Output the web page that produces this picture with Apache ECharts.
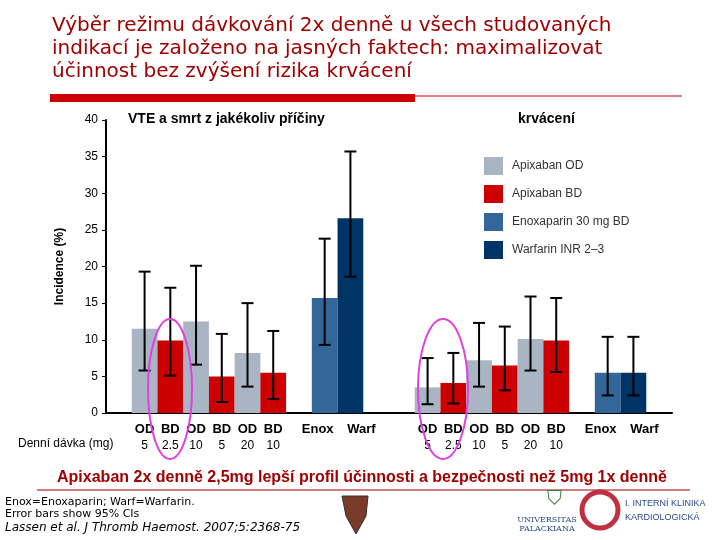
<!DOCTYPE html>
<html><head><meta charset="utf-8">
<script src="https://cdn.jsdelivr.net/npm/echarts@6/dist/echarts.min.js"></script>
<style>html,body{margin:0;padding:0;background:#fff}#c{width:720px;height:540px}</style>
</head><body><div id="c"></div>
<script>
// slots: leading empty, 6 apixaban, gap, enox, warf, 2 gaps, 6 apixaban, gap, enox, warf, trailing
const regimens = ['', 'OD','BD','OD','BD','OD','BD','', 'Enox','Warf','','', 'OD','BD','OD','BD','OD','BD','', 'Enox','Warf',''];
const doses    = ['', '5','2.5','10','5','20','10','', '','','','', '5','2.5','10','5','20','10','', '','',''];
const groups   = [null,'OD','BD','OD','BD','OD','BD',null,'Enox','Warf',null,null,'OD','BD','OD','BD','OD','BD',null,'Enox','Warf',null];
const values   = [null,11.5,9.9,12.5,5.0,8.2,5.5,null,15.7,26.6,null,null,3.5,4.1,7.2,6.5,10.1,9.9,null,5.5,5.5,null];
const ciLow    = [null,5.8,5.1,6.6,1.5,3.6,1.9,null,9.3,18.6,null,null,1.2,1.3,3.6,3.1,5.8,5.6,null,2.4,2.4,null];
const ciHigh   = [null,19.3,17.1,20.1,10.8,15.0,11.2,null,23.8,35.7,null,null,7.5,8.2,12.3,11.8,15.9,15.7,null,10.4,10.4,null];
const yTicks = [0,5,10,15,20,25,30,35,40];
const legendNames = ['Apixaban OD','Apixaban BD','Enoxaparin 30 mg BD','Warfarin INR 2–3'];
const colors = {OD:'#a9b5c3', BD:'#cc0000', Enox:'#336699', Warf:'#003366'};
const legendKeys = ['OD','BD','Enox','Warf'];

const chart = echarts.init(document.getElementById('c'));
const cats = regimens.map((r,i)=>r+'|'+i);
const fontF = 'Liberation Sans, Arial, sans-serif';
const darkRed = '#a00000';

const legendItems = [];
legendNames.forEach((n,i)=>{
  legendItems.push({type:'rect',shape:{x:484,y:157+i*28,width:19,height:18},style:{fill:colors[legendKeys[i]]}});
  legendItems.push({type:'text',x:512,y:166+i*28,style:{text:n,fill:'#333',font:'12px '+fontF,verticalAlign:'middle'}});
});

chart.setOption({
  backgroundColor:'#fff',
  animation:false,
  grid:{left:106,top:120,width:566,height:293},
  xAxis:{type:'category',data:cats,axisTick:{show:false},
    axisLine:{lineStyle:{color:'#000',width:2}},
    axisLabel:{interval:0,margin:8,formatter:(v,i)=>{
      const r=regimens[i], d=doses[i];
      const st = r==='Enox'?'e':(r==='Warf'?'w':'r');
      return '{'+st+'|'+(r||' ')+'}\n{d|'+(d||' ')+'}';
    },rich:{r:{fontSize:13,fontWeight:'bold',color:'#000',fontFamily:fontF,lineHeight:17},
            e:{fontSize:13,fontWeight:'bold',color:'#000',fontFamily:fontF,lineHeight:17,padding:[0,14,0,0]},
            w:{fontSize:13,fontWeight:'bold',color:'#000',fontFamily:fontF,lineHeight:17,padding:[0,0,0,22]},
            d:{fontSize:12,color:'#000',fontFamily:fontF,lineHeight:15}}}},
  yAxis:{type:'value',min:0,max:40,interval:5,splitLine:{show:false},
    axisLine:{show:true,lineStyle:{color:'#000',width:2}},
    axisTick:{show:true,length:4,lineStyle:{color:'#000'}},
    axisLabel:{color:'#000',fontSize:12,fontFamily:fontF,margin:8},
    name:'Incidence (%)',nameLocation:'middle',nameGap:40,nameRotate:90,
    nameTextStyle:{fontSize:12,fontWeight:'bold',color:'#000',fontFamily:fontF}},
  series:[
    {type:'bar',barWidth:'100%',data:values.map((v,i)=>v==null?null:{value:v,itemStyle:{color:colors[groups[i]]}})},
    {type:'custom',z:5,data:values.map((v,i)=>[i,ciLow[i],ciHigh[i]]).filter(d=>d[1]!=null),
      renderItem:(p,api)=>{
        const lo=api.coord([api.value(0),api.value(1)]), hi=api.coord([api.value(0),api.value(2)]);
        const w=6, st={stroke:'#000',lineWidth:2};
        return {type:'group',children:[
          {type:'line',shape:{x1:lo[0],y1:lo[1],x2:hi[0],y2:hi[1]},style:st},
          {type:'line',shape:{x1:lo[0]-w,y1:lo[1],x2:lo[0]+w,y2:lo[1]},style:st},
          {type:'line',shape:{x1:hi[0]-w,y1:hi[1],x2:hi[0]+w,y2:hi[1]},style:st}]};
      }}
  ],
  graphic:[
    {type:'text',x:52,y:14,style:{text:'Výběr režimu dávkování 2x denně u všech studovaných\nindikací je založeno na jasných faktech: maximalizovat\núčinnost bez zvýšení rizika krvácení',fill:darkRed,font:'20px DejaVu Sans, sans-serif',lineHeight:23}},
    {type:'rect',shape:{x:50,y:94,width:365,height:8},style:{fill:'#cc0000'}},
    {type:'line',shape:{x1:415,y1:96,x2:682,y2:96},style:{stroke:'#cc0000',lineWidth:1}},
    {type:'text',x:128,y:112,style:{text:'VTE a smrt z jakékoliv příčiny',fill:'#000',font:'bold 14px '+fontF}},
    {type:'text',x:518,y:112,style:{text:'krvácení',fill:'#000',font:'bold 14px '+fontF}},
    ...legendItems,
    {type:'text',x:18,y:438,style:{text:'Denní dávka (mg)',fill:'#000',font:'12px '+fontF}},
    {type:'ellipse',z:10,shape:{cx:170,cy:389,rx:22,ry:70},style:{fill:'none',stroke:'#e040e0',lineWidth:2}},
    {type:'ellipse',z:10,shape:{cx:443,cy:389,rx:25,ry:70},style:{fill:'none',stroke:'#e040e0',lineWidth:2}},
    {type:'text',x:362,y:470,style:{text:'Apixaban 2x denně 2,5mg lepší profil účinnosti a bezpečnosti než 5mg 1x denně',fill:darkRed,font:'bold 16px '+fontF,align:'center'}},
    {type:'line',shape:{x1:37,y1:490,x2:690,y2:490},style:{stroke:darkRed,lineWidth:1}},
    {type:'text',x:5,y:496,style:{text:'Enox=Enoxaparin; Warf=Warfarin.\nError bars show 95% CIs',fill:'#000',font:'11px DejaVu Sans, sans-serif',lineHeight:12}},
    {type:'text',x:5,y:522,style:{text:'Lassen et al. J Thromb Haemost. 2007;5:2368-75',fill:'#000',font:'italic 12px DejaVu Sans, sans-serif'}},
    {type:'polygon',shape:{points:[[342,496],[368,496],[366,516],[356,534],[346,516]]},style:{fill:'#7a3a2a',stroke:'#333'}},
    {type:'text',x:547,y:490,style:{text:'⛉',fill:'#4a7a3a',font:'20px DejaVu Sans'}},
    {type:'text',x:547,y:515,style:{text:'UNIVERSITAS\nPALACKIANA',fill:'#2a4a8a',font:'8px DejaVu Serif, serif',align:'center',lineHeight:9}},
    {type:'text',x:625,y:497,style:{text:'I. INTERNÍ KLINIKA\nKARDIOLOGICKÁ',fill:'#2a4a8a',font:'9px '+fontF,lineHeight:14}},
    {type:'circle',shape:{cx:600,cy:510,r:18},style:{fill:'none',stroke:'#c03040',lineWidth:5}}
  ]
});
</script></body></html>
